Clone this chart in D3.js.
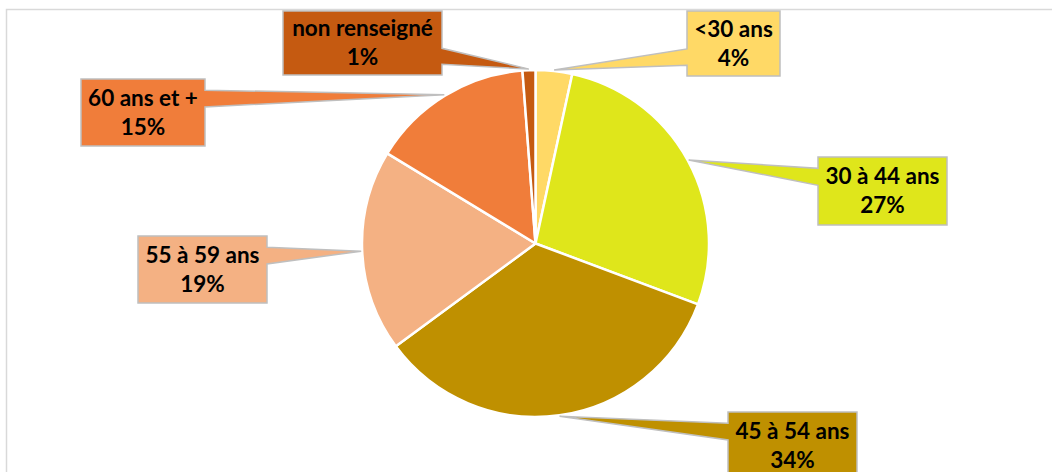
<!DOCTYPE html>
<html>
<head>
  <meta charset="utf-8">
  <title>Répartition par âge</title>
  <script src="https://d3js.org/d3.v7.min.js"></script>
</head>
<style>
  body {
    margin: 0;
    background: #fff;
  }
  .callout text {
    font-family: Lato, sans-serif;
    font-weight: bold;
    font-size: 22.5px;
    fill: #000;
    text-anchor: middle;
  }
</style>
<body>
<div id="chart"></div>
<script>
// data
var categories = ["<30 ans", "30 à 44 ans", "45 à 54 ans", "55 à 59 ans", "60 ans et +", "non renseigné"];
var shares = [3.4, 27.3, 34.2, 18.8, 15.1, 1.2];
var pctLabels = ["4%", "27%", "34%", "19%", "15%", "1%"];
var colors = ["#FFD966", "#DFE61B", "#BF9000", "#F4B183", "#F07D3A", "#C55A11"];

// callout boxes [x, y, w, h], same order as categories
var boxes = [
  [687, 11, 93, 65],
  [818, 157, 129, 68],
  [728, 412, 129, 67],
  [138, 236, 129, 67],
  [81, 79, 124, 67],
  [283, 11, 159, 64]
];

var width = 1052, height = 472;
var cx = 535.5, cy = 243.5, radius = 173.5;

var svg = d3.select("#chart")
  .append("svg")
  .attr("width", width)
  .attr("height", height);

// chart frame
svg.append("rect")
  .attr("x", 6.5)
  .attr("y", 9.5)
  .attr("width", 1200)
  .attr("height", 600)
  .attr("fill", "none")
  .attr("stroke", "#d9d9d9")
  .attr("stroke-width", 1.5);

var pie = d3.pie().sort(null).value(function(d) { return d; });
var arcs = pie(shares);

var arc = d3.arc().innerRadius(0).outerRadius(radius);
var tipArc = d3.arc().innerRadius(radius + 1).outerRadius(radius + 1);

var g = svg.append("g").attr("transform", "translate(" + cx + "," + cy + ")");

g.selectAll("path")
  .data(arcs)
  .enter()
  .append("path")
  .attr("d", arc)
  .attr("fill", function(d, i) { return colors[i]; })
  .attr("stroke", "#fff")
  .attr("stroke-width", 2.5)
  .attr("stroke-linejoin", "round");

// rectangle callout with a wedge pointing to the slice
function calloutPoints(b, tx, ty) {
  var x = b[0], y = b[1], w = b[2], h = b[3];
  var lower = ty > y + h / 2;
  var b1 = y + h * (lower ? 7 : 2) / 12;
  var b2 = y + h * (lower ? 10 : 5) / 12;
  if (tx > x + w) {
    return [[x, y], [x + w, y], [x + w, b1], [tx, ty], [x + w, b2], [x + w, y + h], [x, y + h]];
  }
  return [[x, y], [x + w, y], [x + w, y + h], [x, y + h], [x, b2], [tx, ty], [x, b1]];
}

var callouts = svg.selectAll(".callout")
  .data(arcs)
  .enter()
  .append("g")
  .attr("class", "callout");

callouts.append("polygon")
  .attr("points", function(d, i) {
    var c = tipArc.centroid(d);
    return calloutPoints(boxes[i], cx + c[0], cy + c[1]).join(" ");
  })
  .attr("fill", function(d, i) { return colors[i]; })
  .attr("stroke", "#BFBFBF")
  .attr("stroke-width", 1.5)
  .attr("stroke-linejoin", "miter");

callouts.append("text")
  .attr("x", function(d, i) { return boxes[i][0] + boxes[i][2] / 2; })
  .attr("y", function(d, i) { return boxes[i][1] + boxes[i][3] / 2 - 7; })
  .text(function(d, i) { return categories[i]; });

callouts.append("text")
  .attr("x", function(d, i) { return boxes[i][0] + boxes[i][2] / 2; })
  .attr("y", function(d, i) { return boxes[i][1] + boxes[i][3] / 2 + 22; })
  .text(function(d, i) { return pctLabels[i]; });
</script>
</body>
</html>
